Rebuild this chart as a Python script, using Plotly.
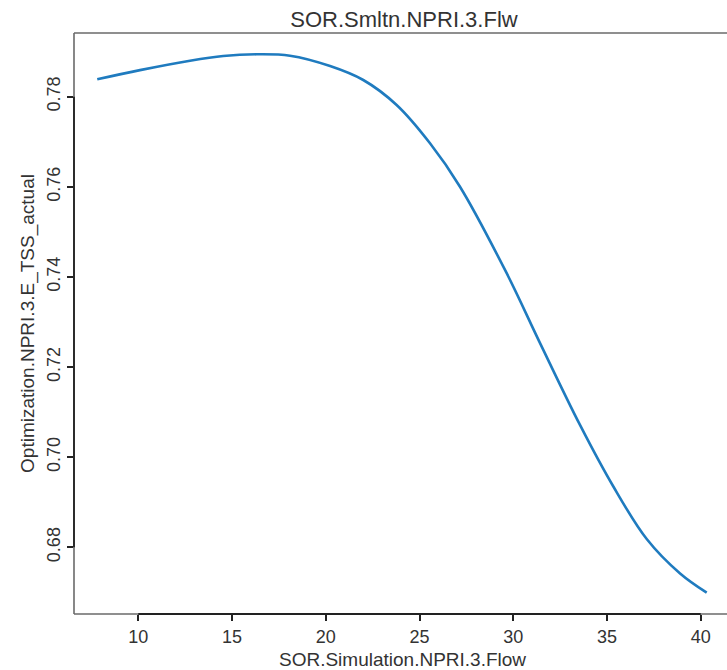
import plotly.graph_objects as go

# Data
flow = [7.81, 10.09, 12.76, 14.53, 16.32, 18.09, 20.23, 22.00, 23.78, 25.56,
        27.16, 29.65, 31.43, 33.56, 35.34, 37.12, 38.90, 40.32]
tss = [0.78386, 0.78590, 0.78799, 0.78903, 0.78941, 0.78910, 0.78681, 0.78371,
       0.77816, 0.76966, 0.76003, 0.74083, 0.72532, 0.70716,
       0.69349, 0.68184, 0.67419, 0.66993]

x_ticks = [10, 15, 20, 25, 30, 35, 40]
y_ticks = [0.68, 0.70, 0.72, 0.74, 0.76, 0.78]
y_tick_labels = ["0.68", "0.70", "0.72", "0.74", "0.76", "0.78"]

title_text = "SOR.Smltn.NPRI.3.Flw"
x_title = "SOR.Simulation.NPRI.3.Flow"
y_title = "Optimization.NPRI.3.E_TSS_actual"

FONT = "Liberation Sans, Arial, Helvetica, sans-serif"
TXT = "#333333"

fig = go.Figure()
fig.add_trace(go.Scatter(
    x=flow, y=tss, mode="lines",
    line=dict(color="#1f7bbf", width=2.6, shape="spline", smoothing=1.0),
    hoverinfo="skip", showlegend=False,
))

W, H = 727, 670
L, T, B = 74, 33, 56

fig.update_layout(
    width=W, height=H,
    margin=dict(l=L, r=0, t=T, b=B, autoexpand=False),
    paper_bgcolor="white", plot_bgcolor="white",
    font=dict(family=FONT, color=TXT, size=18),
    title=dict(text=title_text, x=404 / W, xref="container",
               xanchor="center", y=1 - 19 / H, yanchor="middle",
               font=dict(size=22, color=TXT, family=FONT)),
    xaxis=dict(
        range=[6.570, 41.403], tickmode="array", tickvals=x_ticks,
        ticktext=[str(v) for v in x_ticks], automargin=False,
        ticks="outside", ticklen=6, tickwidth=1.5, tickcolor="#222",
        showgrid=False, zeroline=False, showline=False,
        tickfont=dict(size=18, color=TXT, family=FONT),
    ),
    yaxis=dict(
        range=[0.66520, 0.79414], tickmode="array", tickvals=y_ticks,
        ticktext=y_tick_labels, tickangle=-90, automargin=False,
        ticks="outside", ticklen=6, tickwidth=1.5, tickcolor="#222",
        showgrid=False, zeroline=False, showline=False,
        tickfont=dict(size=18, color=TXT, family=FONT),
        title=dict(text=y_title, standoff=4, font=dict(size=19, color=TXT, family=FONT)),
    ),
)

# x-axis title placed below the tick labels
fig.add_annotation(text=x_title, xref="paper", yref="paper",
                   x=(402.5 - L) / (W - L), y=0, xanchor="center", yanchor="middle",
                   yshift=-45, showarrow=False,
                   font=dict(size=19, color=TXT, family=FONT))

# plot box edges (right edge lies beyond the picture, as in the reference)
BOX = dict(color="#6a6a6a", width=1.6)
fig.add_shape(type="line", xref="paper", yref="paper", x0=0, x1=1, y0=1, y1=1,
              line=BOX, layer="above")
fig.add_shape(type="line", xref="paper", yref="paper", x0=0, x1=1, y0=0, y1=0,
              line=BOX, layer="above")
fig.add_shape(type="line", xref="paper", yref="paper", x0=0, x1=0, y0=0, y1=1,
              line=BOX, layer="above")
# axis segments between first and last ticks
fig.add_shape(type="line", xref="x", yref="paper", x0=x_ticks[0], x1=x_ticks[-1],
              y0=0, y1=0, line=dict(color="#222", width=1.8), layer="above")
fig.add_shape(type="line", xref="paper", yref="y", x0=0, x1=0,
              y0=y_ticks[0], y1=y_ticks[-1], line=dict(color="#222", width=1.8), layer="above")

fig.write_html("out.html", config={"displayModeBar": False},
               post_script="document.body.style.margin='0';document.body.style.overflow='hidden';")
